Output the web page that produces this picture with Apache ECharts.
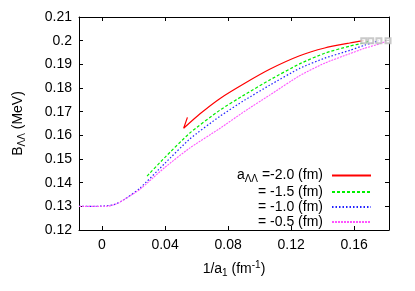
<!DOCTYPE html>
<html>
<head>
<meta charset="utf-8">
<script src="https://cdn.jsdelivr.net/npm/echarts@6/dist/echarts.min.js"></script>
<style>html,body{margin:0;padding:0;background:#fff}#c{width:415px;height:291px}</style>
</head>
<body>
<div id="c"></div>
<script>
// 1/a1 (fm^-1), B (MeV)
var curveA20 = [[0.0542,0.1676],[0.0518,0.1630],[0.0620,0.1690],[0.0747,0.1755],[0.0906,0.1820],[0.1064,0.1879],[0.1254,0.1936],[0.1413,0.1969],[0.1572,0.1990],[0.1661,0.2000]];
var curveA15 = [[0.0286,0.1428],[0.0398,0.1506],[0.0556,0.1609],[0.0747,0.1706],[0.0906,0.1772],[0.1064,0.1834],[0.1254,0.1902],[0.1413,0.1947],[0.1572,0.1977],[0.1656,0.1990],[0.1705,0.2000]];
var curveA10 = [[-0.0146,0.1300],[-0.0046,0.1300],[0.0017,0.1302],[0.0081,0.1308],[0.0144,0.1330],[0.0239,0.1376],[0.0398,0.1481],[0.0556,0.1584],[0.0747,0.1680],[0.0906,0.1749],[0.1064,0.1812],[0.1254,0.1883],[0.1413,0.1926],[0.1572,0.1959],[0.1667,0.1981],[0.1757,0.2000]];
var curveA05 = [[-0.0146,0.1300],[-0.0046,0.1300],[0.0043,0.1301],[0.0106,0.1315],[0.0169,0.1341],[0.0239,0.1371],[0.0398,0.1464],[0.0556,0.1546],[0.0747,0.1629],[0.0906,0.1702],[0.1064,0.1770],[0.1254,0.1852],[0.1413,0.1905],[0.1572,0.1945],[0.1667,0.1968],[0.1762,0.1987],[0.1815,0.2000]];
var legendNames = ['a=-2.0', 'a=-1.5', 'a=-1.0', 'a=-0.5'];
var legendTexts = ['{a|a}{s|ΛΛ}{a| =-2.0 (fm)}', '= -1.5 (fm)', '= -1.0 (fm)', '= -0.5 (fm)'];
var xTicks = [0, 0.04, 0.08, 0.12, 0.16];
var xMin = -0.0146, xMax = 0.1821;
var yMin = 0.12, yMax = 0.21, yStep = 0.01;

var FONT = 'Liberation Sans, Arial, Helvetica, sans-serif';
var endpoints = [curveA20, curveA15, curveA10, curveA05].map(function (c) { return c[c.length - 1]; });

var chart = echarts.init(document.getElementById('c'), null, {renderer: 'canvas'});
function xAx(pos, show) {
  return {
    type: 'value', position: pos, min: xMin, max: xMax,
    axisLine: {show: true, onZero: false, lineStyle: {color: '#000', width: 1}},
    axisTick: {show: true, inside: true, length: 4, customValues: xTicks, lineStyle: {color: '#000'}},
    axisLabel: {show: show, customValues: xTicks, margin: 8, color: '#000', fontFamily: FONT, fontSize: 14,
      formatter: function (v) { return String(+v.toFixed(2)); }},
    splitLine: {show: false},
    name: show ? '{t|1/a}{s|1}{t| (fm}{p|-1}{t|)}' : '',
    nameLocation: 'middle', nameGap: 30,
    nameTextStyle: {rich: {
      t: {fontFamily: FONT, fontSize: 14, color: '#000'},
      s: {fontFamily: FONT, fontSize: 10, color: '#000', padding: [8, 0, 0, 0]},
      p: {fontFamily: FONT, fontSize: 10, color: '#000', padding: [0, 0, 8, 0]}
    }}
  };
}
function yAx(pos, show) {
  return {
    type: 'value', position: pos, min: yMin, max: yMax, interval: yStep,
    axisLine: {show: true, onZero: false, lineStyle: {color: '#000', width: 1}},
    axisTick: {show: true, inside: true, length: 4, lineStyle: {color: '#000'}},
    axisLabel: {show: show, margin: 7, color: '#000', fontFamily: FONT, fontSize: 14,
      formatter: function (v) { return String(+v.toFixed(2)); }},
    splitLine: {show: false},
    name: show ? '{t|B}{s|ΛΛ}{t| (MeV)}' : '',
    nameLocation: 'middle', nameGap: 52, nameRotate: 90,
    nameTextStyle: {rich: {
      t: {fontFamily: FONT, fontSize: 14, color: '#000'},
      s: {fontFamily: FONT, fontSize: 10, color: '#000', padding: [8, 0, 0, 0]}
    }}
  };
}
function lineSeries(name, data, color, type, width) {
  return {
    name: name, type: 'line', data: data, xAxisIndex: 0, yAxisIndex: 0,
    showSymbol: false, symbol: 'none', smooth: 0.2,
    lineStyle: {color: color, width: width, type: type},
    itemStyle: {color: color}
  };
}
var option = {
  animation: false,
  backgroundColor: '#fff',
  grid: {left: 79, right: 26, top: 17, bottom: 61, containLabel: false},
  xAxis: [xAx('bottom', true), xAx('top', false)],
  yAxis: [yAx('left', true), yAx('right', false)],
  legend: {
    orient: 'vertical', right: 43, top: 168, padding: 0, itemWidth: 39, itemHeight: 15, itemGap: 0,
    align: 'right',
    itemStyle: {opacity: 0},
    data: legendNames,
    formatter: function (n) { return legendTexts[legendNames.indexOf(n)]; },
    textStyle: {fontFamily: FONT, fontSize: 14, color: '#000', width: 100, height: 15, lineHeight: 15, align: 'right', padding: [0, 4, 0, 0],
      rich: {
        a: {fontFamily: FONT, fontSize: 14, color: '#000'},
        s: {fontFamily: FONT, fontSize: 10, color: '#000', padding: [8, 0, 0, 0]}
      }}
  },
  series: [
    lineSeries(legendNames[0], curveA20, '#ff0000', 'solid', 1.2),
    lineSeries(legendNames[1], curveA15, '#00ee00', [3, 2], 1.2),
    lineSeries(legendNames[2], curveA10, '#2020ff', [1.5, 2], 1.2),
    lineSeries(legendNames[3], curveA05, '#ff55ff', [2, 1], 1.1),
    {type: 'scatter', data: endpoints, symbol: 'emptyRect', symbolSize: 5,
      itemStyle: {color: '#bbb', borderColor: '#888', borderWidth: 1}, z: 5}
  ]
};
chart.setOption(option);
</script>
</body>
</html>
